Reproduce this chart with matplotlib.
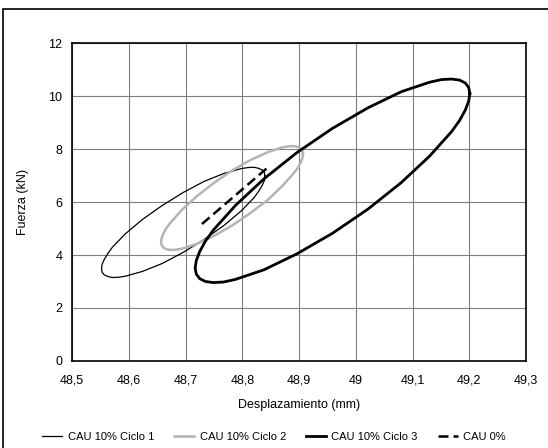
import matplotlib
matplotlib.use("Agg")
import matplotlib.pyplot as plt
from matplotlib.patches import Rectangle
from matplotlib.ticker import FuncFormatter

plt.rcParams['font.family'] = ['Liberation Sans', 'DejaVu Sans']

# Ciclo 1 (thin black loop)
x_c1 = [48.840, 48.839, 48.835, 48.829, 48.821, 48.810, 48.798, 48.768, 48.733, 48.696, 48.659, 48.624,
        48.594, 48.571, 48.563, 48.557, 48.553, 48.552, 48.553, 48.557, 48.563, 48.571, 48.582, 48.594,
        48.624, 48.659, 48.696, 48.733, 48.768, 48.798, 48.821, 48.829, 48.835, 48.839, 48.840]
y_c1 = [6.98, 7.11, 7.21, 7.27, 7.31, 7.30, 7.26, 7.08, 6.78, 6.36, 5.87, 5.34,
        4.80, 4.29, 4.05, 3.84, 3.65, 3.48, 3.35, 3.25, 3.19, 3.15, 3.16, 3.20,
        3.38, 3.68, 4.10, 4.59, 5.12, 5.66, 6.17, 6.41, 6.62, 6.81, 6.98]

# Ciclo 2 (grey loop)
x_c2 = [48.907, 48.906, 48.903, 48.898, 48.890, 48.881, 48.870, 48.845, 48.814, 48.782, 48.750, 48.720,
        48.694, 48.674, 48.666, 48.661, 48.658, 48.657, 48.658, 48.661, 48.666, 48.674, 48.683, 48.694,
        48.720, 48.750, 48.782, 48.814, 48.845, 48.870, 48.890, 48.898, 48.903, 48.906, 48.907]
y_c2 = [7.81, 7.93, 8.02, 8.08, 8.11, 8.10, 8.06, 7.88, 7.58, 7.19, 6.72, 6.22,
        5.71, 5.23, 5.01, 4.81, 4.64, 4.49, 4.37, 4.28, 4.22, 4.19, 4.20, 4.24,
        4.42, 4.72, 5.11, 5.58, 6.08, 6.59, 7.07, 7.29, 7.49, 7.66, 7.81]

# Ciclo 3 (thick black loop)
x_c3 = [49.201, 49.199, 49.193, 49.183, 49.169, 49.151, 49.130, 49.080, 49.022, 48.959, 48.896, 48.838,
        48.788, 48.749, 48.735, 48.725, 48.719, 48.717, 48.719, 48.725, 48.735, 48.749, 48.767, 48.788,
        48.838, 48.896, 48.959, 49.022, 49.080, 49.130, 49.169, 49.183, 49.193, 49.199, 49.201]
y_c3 = [10.09, 10.32, 10.49, 10.60, 10.64, 10.62, 10.52, 10.16, 9.56, 8.78, 7.86, 6.87,
        5.87, 4.94, 4.52, 4.13, 3.79, 3.51, 3.28, 3.11, 3.00, 2.96, 2.98, 3.08,
        3.44, 4.04, 4.82, 5.74, 6.73, 7.73, 8.66, 9.08, 9.47, 9.81, 10.09]

# CAU 0% (dashed)
x_c0 = [48.729, 48.848]
y_c0 = [5.17, 7.36]

x_ticks = [48.5, 48.6, 48.7, 48.8, 48.9, 49.0, 49.1, 49.2, 49.3]
y_ticks = [0, 2, 4, 6, 8, 10, 12]

fig = plt.figure(figsize=(5.48, 4.48), dpi=100)
ax = fig.add_axes([0.1314, 0.1942, 0.8285, 0.7098])

ax.plot(x_c1, y_c1, color='black', lw=0.9, solid_joinstyle='round', label='CAU 10% Ciclo 1')
ax.plot(x_c2, y_c2, color='#b4b4b4', lw=1.8, solid_joinstyle='round', label='CAU 10% Ciclo 2')
ax.plot(x_c3, y_c3, color='black', lw=2.0, solid_joinstyle='round', label='CAU 10% Ciclo 3')
ax.plot(x_c0, y_c0, color='black', lw=1.8, dashes=(4, 2), label='CAU 0%')

ax.set_xlim(48.5, 49.3)
ax.set_ylim(0, 12)
ax.set_xticks(x_ticks)
ax.set_yticks(y_ticks)

def fmt(v, pos):
    s = ('%.1f' % v).rstrip('0').rstrip('.')
    return s.replace('.', ',')

ax.xaxis.set_major_formatter(FuncFormatter(fmt))
ax.grid(True, color='#7f7f7f', lw=0.8)
ax.set_axisbelow(True)
ax.tick_params(axis='both', length=0, labelsize=9)
ax.tick_params(axis='x', pad=10)
ax.tick_params(axis='y', pad=7)
for s in ax.spines.values():
    s.set_linewidth(1.2)
    s.set_color('black')

ax.set_xlabel('Desplazamiento (mm)', fontsize=9, labelpad=9)
ax.set_ylabel('Fuerza (kN)', fontsize=9, labelpad=14)

fig.legend(loc='center', bbox_to_anchor=(0.5, 1 - 437 / 448), ncol=4, frameon=False,
           fontsize=8, handlelength=1.8, columnspacing=1.8, handletextpad=0.5)

fig.patches.append(Rectangle((3 / 548, -0.2), 1.3, 0.2 + 1 - 9 / 448, transform=fig.transFigure,
                             fill=False, edgecolor='black', lw=1.2, clip_on=False))

fig.savefig('out.png', dpi=100)
